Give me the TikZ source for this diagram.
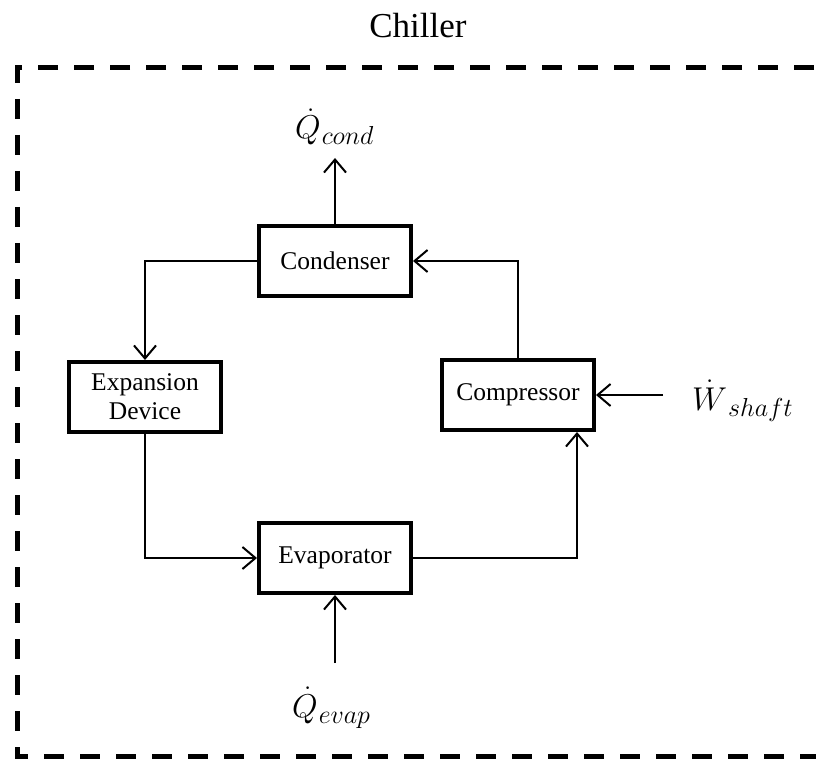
\RequirePackage{fix-cm}
\documentclass[tikz,border=0pt]{standalone}
\usepackage{fontspec}
\setmainfont{Liberation Serif}
\usetikzlibrary{arrows.meta}
\newcommand\flowlbl[2]{$\dot{#1}$\kern1pt{\fontsize{26}{30}\selectfont\raisebox{-6pt}{$#2$}}}
\begin{document}
\begin{tikzpicture}[x=1pt,y=-1pt,
  blk/.style={draw,line width=4pt,line join=miter,minimum width=152pt,minimum height=70pt,inner sep=0pt,align=center,font=\fontsize{25.5}{29}\selectfont},
  conn/.style={line width=2pt,-{Straight Barb[length=13pt,width=22pt,line width=2pt]}},
  lbl/.style={inner sep=0pt,anchor=base west,font=\fontsize{33}{38}\selectfont},
  frame/.style={line width=5pt,dash pattern=on 20pt off 16pt,line join=miter}]
\useasboundingbox (0,0) rectangle (816,759);
\clip (0,0) rectangle (816,759);
\node[inner sep=0pt,font=\fontsize{35}{40}\selectfont] (title) at (418,26) {Chiller};
\draw[frame] (850,68) -- (17,68) -- (17,756) -- (850,756);
\node[blk] (cond) at (335,261) {Condenser};
\node[blk] (exp) at (145,397) {Expansion\\Device};
\node[blk] (comp) at (518,395) {Compressor};
\node[blk] (evap) at (335,558) {Evaporator};
\draw[conn] (cond.west) -| (exp.north);
\draw[conn] (exp.south) |- (evap.west);
\draw[conn] (evap.east) -| ([xshift=59pt]comp.south);
\draw[conn] (comp.north) |- (cond.east);
\coordinate (qc) at (335,158);
\draw[conn] (cond.north) -- (qc);
\node[lbl] (qcl) at (295,139) {\flowlbl{Q}{cond}};
\coordinate (qe) at (335,663);
\draw[conn] (qe) -- (evap.south);
\node[lbl] (qel) at (292,717) {\flowlbl{Q}{evap}};
\coordinate (ws) at (663,395);
\draw[conn] (ws) -- (comp.east);
\node[lbl] (wl) at (692,410) {\flowlbl{W}{shaft}};
\end{tikzpicture}
\end{document}
